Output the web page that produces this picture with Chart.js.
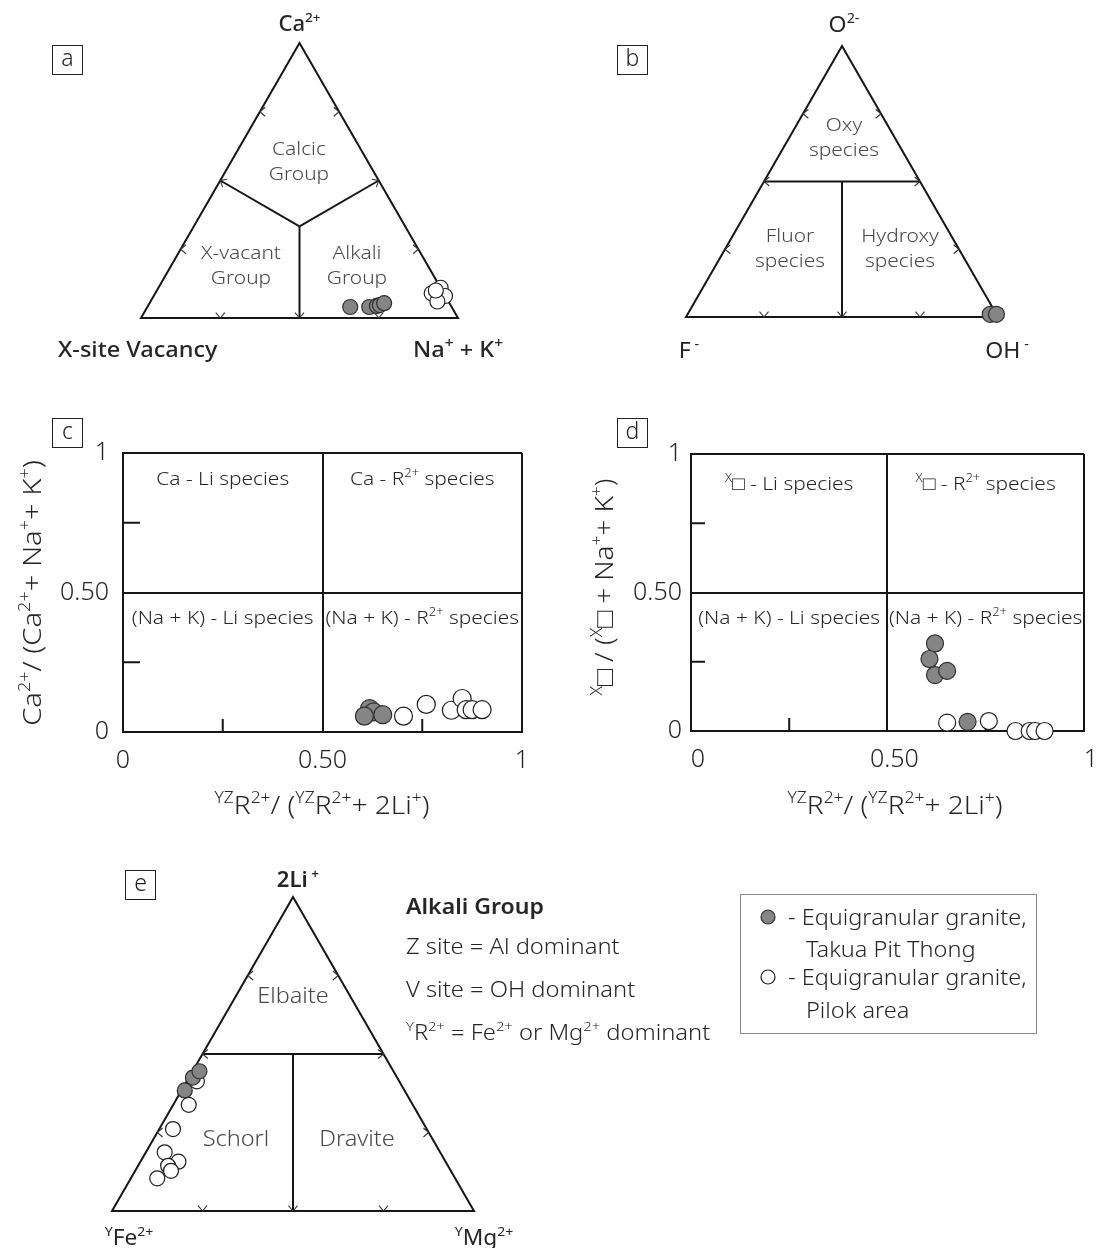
<!DOCTYPE html>
<html>
<head>
<meta charset="utf-8">
<title>Tourmaline classification diagrams</title>
<script src="https://cdn.jsdelivr.net/npm/chart.js@4.4.1/dist/chart.umd.min.js"></script>
<style>
  html, body { margin: 0; padding: 0; background: #ffffff; }
  #figure { position: relative; width: 1105px; height: 1248px; overflow: hidden; background: #fff; }
  #figure canvas { position: absolute; }
</style>
</head>
<body>
<div id="figure">
  <canvas id="panelA" width="560" height="400" style="left:0px;top:0px"></canvas>
  <canvas id="panelB" width="545" height="400" style="left:560px;top:0px"></canvas>
  <canvas id="panelC" width="560" height="440" style="left:0px;top:400px"></canvas>
  <canvas id="panelD" width="545" height="440" style="left:560px;top:400px"></canvas>
  <canvas id="panelE" width="1105" height="408" style="left:0px;top:840px"></canvas>
</div>
<script>
// ---------------- data ----------------
const seriesNames = ['Equigranular granite, Takua Pit Thong', 'Equigranular granite, Pilok area'];

// (a) X site: Ca2+, Na+ + K+, vacancy (fractions)
const aTakuaCa  = [0.040, 0.040, 0.044, 0.047, 0.054];
const aTakuaNaK = [0.640, 0.700, 0.722, 0.730, 0.740];
const aTakuaVac = [0.320, 0.260, 0.234, 0.223, 0.206];
const aPilokCa  = [0.090, 0.110, 0.080, 0.060, 0.100];
const aPilokNaK = [0.872, 0.890, 0.919, 0.905, 0.880];
const aPilokVac = [0.038, 0.000, 0.001, 0.035, 0.020];

// (b) W site: O2-, OH-, F-
const bTakuaO  = [0.010, 0.010];
const bTakuaOH = [0.970, 0.990];
const bTakuaF  = [0.020, 0.000];

// (c) YZR2+/(YZR2+ + 2Li+) vs Ca2+/(Ca2+ + Na+ + K+)
const cTakuaR  = [0.618, 0.628, 0.605, 0.651];
const cTakuaCa = [0.084, 0.072, 0.057, 0.062];
const cPilokR  = [0.703, 0.760, 0.823, 0.850, 0.860, 0.875, 0.900];
const cPilokCa = [0.057, 0.099, 0.078, 0.120, 0.080, 0.080, 0.080];

// (d) YZR2+/(YZR2+ + 2Li+) vs vacancy/(vacancy + Na+ + K+)
const dTakuaR   = [0.621, 0.607, 0.621, 0.652, 0.704];
const dTakuaVac = [0.316, 0.260, 0.202, 0.217, 0.033];
const dPilokR   = [0.652, 0.758, 0.826, 0.862, 0.876, 0.900];
const dPilokVac = [0.030, 0.036, 0.000, 0.000, 0.000, 0.000];

// (e) Y site: 2Li+, Fe2+, Mg2+
const eTakuaLi = [0.384, 0.425, 0.445];
const eTakuaFe = [0.607, 0.564, 0.536];
const eTakuaMg = [0.009, 0.011, 0.019];
const ePilokLi = [0.413, 0.338, 0.261, 0.187, 0.157, 0.144, 0.128, 0.104];
const ePilokFe = [0.559, 0.619, 0.701, 0.761, 0.738, 0.773, 0.773, 0.823];
const ePilokMg = [0.028, 0.043, 0.038, 0.052, 0.105, 0.083, 0.099, 0.073];

// axis ticks of the two binary plots
const tickValues = [0, 0.5, 1];
const tickLabels = ['0', '0.50', '1'];

// ---------------- helpers ----------------
const H = Math.sqrt(3) / 2;
const FONT = "'Noto Sans', 'DejaVu Sans', sans-serif";
const INK = '#161616';
const TEXT = '#262626';
const SOFT = '#484848';

const filledStyle = { backgroundColor: '#858585', borderColor: '#2e2e2e', borderWidth: 1.2 };
const openStyle   = { backgroundColor: '#ffffff', borderColor: '#1e1e1e', borderWidth: 1.2 };

// ternary fractions (top, right, left apex) -> cartesian x/y in a unit triangle
function ternary(top, right, left) {
  return top.map((t, i) => {
    const s = t + right[i] + left[i];
    return { x: right[i] / s + (t / s) / 2, y: (t / s) * H };
  });
}
function pairs(xs, ys) { return xs.map((x, i) => ({ x, y: ys[i] })); }

function dataset(label, data, style, radius) {
  return Object.assign({ label, data, pointRadius: radius, pointHoverRadius: radius, clip: false }, style);
}

function setFont(ctx, size, weight) { ctx.font = `${weight} ${size}px ${FONT}`; }
const sup = t => ({ t, sup: true });

// text with superscripts; (x, y) is the visual centre line of the capitals
function rich(ctx, parts, x, y, o) {
  const size = o.size || 18, weight = o.weight || 400, small = size * (o.supScale || 0.62);
  const stretch = o.stretch || 1.1;
  const segs = parts.map(p => typeof p === 'string' ? { t: p } : p);
  let w = 0;
  for (const s of segs) { setFont(ctx, s.sup ? small : size, weight); w += ctx.measureText(s.t).width; }
  ctx.save();
  ctx.translate(x, y);
  if (o.rotate) ctx.rotate(o.rotate);
  ctx.scale(stretch, 1);
  ctx.fillStyle = o.color || TEXT;
  ctx.textAlign = 'left';
  ctx.textBaseline = 'alphabetic';
  let cx = o.align === 'left' ? 0 : o.align === 'right' ? -w : -w / 2;
  const base = size * 0.36;
  for (const s of segs) {
    setFont(ctx, s.sup ? small : size, weight);
    ctx.fillText(s.t, cx, base - (s.sup ? size * 0.42 : 0));
    cx += ctx.measureText(s.t).width;
  }
  ctx.restore();
}

function poly(ctx, pts, close) {
  ctx.beginPath();
  ctx.moveTo(pts[0][0], pts[0][1]);
  for (let i = 1; i < pts.length; i++) ctx.lineTo(pts[i][0], pts[i][1]);
  if (close) ctx.closePath();
  ctx.stroke();
}

// open arrow head with its tip at (x, y) pointing along angle ang
function chevron(ctx, x, y, ang) {
  const len = 7, spread = 0.7;
  ctx.beginPath();
  ctx.moveTo(x + len * Math.cos(ang + Math.PI - spread), y + len * Math.sin(ang + Math.PI - spread));
  ctx.lineTo(x, y);
  ctx.lineTo(x + len * Math.cos(ang + Math.PI + spread), y + len * Math.sin(ang + Math.PI + spread));
  ctx.stroke();
}

function panelTag(ctx, letter, x, y) {
  ctx.save();
  ctx.strokeStyle = '#222';
  ctx.lineWidth = 1;
  ctx.strokeRect(x + 0.5, y + 0.5, 30, 29);
  ctx.restore();
  rich(ctx, [letter], x + 15.5, y + 13, { size: 23, weight: 300, color: '#222', stretch: 1 });
}

// pixel position of a ternary composition through the chart scales
function tpx(chart, t, r, l) {
  const s = t + r + l;
  const x = r / s + (t / s) / 2, y = (t / s) * H;
  return [chart.scales.x.getPixelForValue(x), chart.scales.y.getPixelForValue(y)];
}

// outline, tick arrows on the three sides
function triangleFrame(chart) {
  const ctx = chart.ctx;
  const P = (t, r, l) => tpx(chart, t, r, l);
  ctx.strokeStyle = INK;
  ctx.lineWidth = 2;
  ctx.lineJoin = 'miter';
  poly(ctx, [P(1, 0, 0), P(0, 1, 0), P(0, 0, 1)], true);
  ctx.lineWidth = 1.1;
  ctx.strokeStyle = '#333';
  for (const f of [0.25, 0.75]) {
    let p = P(f, 0, 1 - f); chevron(ctx, p[0], p[1], Math.PI);
    p = P(f, 1 - f, 0); chevron(ctx, p[0], p[1], 0);
    p = P(0, f, 1 - f); chevron(ctx, p[0], p[1], Math.PI / 2);
  }
}

// horizontal line at half height plus a vertical line down to the base
function halfSplit(chart) {
  const ctx = chart.ctx;
  const P = (t, r, l) => tpx(chart, t, r, l);
  const a = P(0.5, 0, 0.5), b = P(0.5, 0.5, 0), m = P(0.5, 0.25, 0.25), d = P(0, 0.5, 0.5);
  ctx.strokeStyle = INK;
  ctx.lineWidth = 2;
  poly(ctx, [a, b]);
  poly(ctx, [m, d]);
  ctx.lineWidth = 1.1;
  ctx.strokeStyle = '#333';
  chevron(ctx, a[0], a[1], Math.PI);
  chevron(ctx, b[0], b[1], 0);
  chevron(ctx, d[0], d[1], Math.PI / 2);
}

function ternaryChart(id, datasets, pad, draw) {
  return new Chart(document.getElementById(id), {
    type: 'scatter',
    data: { datasets },
    options: {
      responsive: false,
      animation: false,
      devicePixelRatio: 1,
      layout: { padding: pad },
      scales: {
        x: { type: 'linear', min: 0, max: 1, display: false },
        y: { type: 'linear', min: 0, max: H, display: false }
      },
      plugins: { legend: { display: false }, tooltip: { enabled: false } }
    },
    plugins: [{ id: 'ternaryFrame', beforeDatasetsDraw(chart) { const c = chart.ctx; c.save(); draw(chart); c.restore(); } }]
  });
}

function quadChart(id, datasets, pad, labelShift, yPad, yTickLen, draw) {
  const tickFont = { family: FONT, size: 25, weight: 300 };
  const common = {
    type: 'linear', min: 0, max: 1,
    afterBuildTicks: a => { a.ticks = tickValues.map(value => ({ value })); },
    grid: { color: INK, lineWidth: 2, drawTicks: false },
    border: { color: INK, width: 2 }
  };
  return new Chart(document.getElementById(id), {
    type: 'scatter',
    data: { datasets },
    options: {
      responsive: false,
      animation: false,
      devicePixelRatio: 1,
      layout: { padding: pad },
      scales: {
        x: Object.assign({}, common, {
          afterFit: a => { a.height = 50; },
          ticks: { font: tickFont, color: TEXT, padding: 14, maxRotation: 0, autoSkip: false, labelOffset: labelShift,
                   callback: (v, i) => tickLabels[i] }
        }),
        y: Object.assign({}, common, {
          afterFit: a => { a.width = 100; },
          ticks: { font: tickFont, color: TEXT, padding: yPad, autoSkip: false,
                   callback: (v, i) => tickLabels[i] }
        })
      },
      plugins: { legend: { display: false }, tooltip: { enabled: false } }
    },
    plugins: [{
      id: 'quadrants',
      beforeDatasetsDraw(chart) {
        const ctx = chart.ctx, x = chart.scales.x, y = chart.scales.y;
        ctx.save();
        ctx.strokeStyle = INK;
        ctx.lineWidth = 2;
        for (const v of [0.25, 0.75]) {
          const x0 = x.getPixelForValue(0), yv = y.getPixelForValue(v);
          poly(ctx, [[x0, yv], [x0 + yTickLen, yv]]);
          const xv = x.getPixelForValue(v), y0 = y.getPixelForValue(0);
          poly(ctx, [[xv, y0], [xv, y0 - 13]]);
        }
        draw(chart);
        ctx.restore();
      }
    }]
  });
}

// ---------------- (a) X-site ----------------
ternaryChart('panelA', [
  dataset(seriesNames[0], ternary(aTakuaCa, aTakuaNaK, aTakuaVac), filledStyle, 7.5),
  dataset(seriesNames[1], ternary(aPilokCa, aPilokNaK, aPilokVac), openStyle, 7.5)
], { left: 141, right: 102, top: 43, bottom: 82 }, chart => {
  const ctx = chart.ctx;
  const P = (t, r, l) => tpx(chart, t, r, l);
  triangleFrame(chart);
  const c = P(1, 1, 1);
  const ends = [P(1, 0, 1), P(1, 1, 0), P(0, 1, 1)];
  ctx.strokeStyle = INK;
  ctx.lineWidth = 2;
  ends.forEach(e => poly(ctx, [c, e]));
  ctx.lineWidth = 1.1;
  ctx.strokeStyle = '#333';
  ends.forEach(e => chevron(ctx, e[0], e[1], Math.atan2(e[1] - c[1], e[0] - c[0])));
  const top = P(1, 0, 0), right = P(0, 1, 0);
  rich(ctx, ['Ca', sup('2+')], top[0], top[1] - 20, { size: 21, weight: 500, stretch: 1.05 });
  rich(ctx, ['X-site Vacancy'], 58, 349, { size: 21, weight: 500, align: 'left', stretch: 1.12 });
  rich(ctx, ['Na', sup('+'), ' + K', sup('+')], right[0], 349, { size: 21, weight: 500, stretch: 1.12, supScale: 0.66 });
  const reg = { size: 19, weight: 300, color: SOFT };
  rich(ctx, ['Calcic'], 299, 148, reg); rich(ctx, ['Group'], 299, 173, reg);
  rich(ctx, ['X-vacant'], 241, 252, reg); rich(ctx, ['Group'], 241, 277, reg);
  rich(ctx, ['Alkali'], 357, 252, reg); rich(ctx, ['Group'], 357, 277, reg);
  panelTag(ctx, 'a', 52, 45);
});

// ---------------- (b) W-site ----------------
ternaryChart('panelB', [
  dataset(seriesNames[0], ternary(bTakuaO, bTakuaOH, bTakuaF), filledStyle, 8)
], { left: 126, right: 107, top: 46, bottom: 83 }, chart => {
  const ctx = chart.ctx;
  const P = (t, r, l) => tpx(chart, t, r, l);
  triangleFrame(chart);
  halfSplit(chart);
  const top = P(1, 0, 0), right = P(0, 1, 0), left = P(0, 0, 1);
  rich(ctx, ['O', sup('2-')], top[0] + 2, top[1] - 22, { size: 22, weight: 400, stretch: 1.05 });
  rich(ctx, ['F', sup(' -')], left[0] + 3, 350, { size: 22, weight: 400, stretch: 1.05 });
  rich(ctx, ['OH', sup(' -')], right[0] + 9, 350, { size: 22, weight: 400, stretch: 1.05 });
  const reg = { size: 19, weight: 300, color: SOFT };
  rich(ctx, ['Oxy'], 284, 124, reg); rich(ctx, ['species'], 284, 149, reg);
  rich(ctx, ['Fluor'], 230, 235, reg); rich(ctx, ['species'], 230, 260, reg);
  rich(ctx, ['Hydroxy'], 340, 235, reg); rich(ctx, ['species'], 340, 260, reg);
  panelTag(ctx, 'b', 57, 45);
});

// ---------------- (c) ----------------
const rTitle = [sup('YZ'), 'R', sup('2+'), '/ (', sup('YZ'), 'R', sup('2+'), '+ 2Li', sup('+'), ')'];
quadChart('panelC', [
  dataset(seriesNames[0], pairs(cTakuaR, cTakuaCa), filledStyle, 9),
  dataset(seriesNames[1], pairs(cPilokR, cPilokCa), openStyle, 9)
], { left: 23, right: 38, top: 53, bottom: 58 }, 0, 14, 17, chart => {
  const ctx = chart.ctx, x = chart.scales.x, y = chart.scales.y;
  const q = { size: 19, weight: 300, color: TEXT };
  rich(ctx, ['Ca - Li species'], x.getPixelForValue(0.25), y.getPixelForValue(0.91), q);
  rich(ctx, ['Ca - R', sup('2+'), ' species'], x.getPixelForValue(0.75), y.getPixelForValue(0.91), q);
  rich(ctx, ['(Na + K) - Li species'], x.getPixelForValue(0.25), y.getPixelForValue(0.41), q);
  rich(ctx, ['(Na + K) - R', sup('2+'), ' species'], x.getPixelForValue(0.75), y.getPixelForValue(0.41), q);
  rich(ctx, ['Ca', sup('2+'), '/ (Ca', sup('2+'), '+ Na', sup('+'), '+ K', sup('+'), ')'], 32, 193,
       { size: 26, weight: 300, rotate: -Math.PI / 2, stretch: 1.12 });
  rich(ctx, rTitle, 322, 405, { size: 26, weight: 300, stretch: 1.08 });
  panelTag(ctx, 'c', 52, 18);
});

// ---------------- (d) ----------------
quadChart('panelD', [
  dataset(seriesNames[0], pairs(dTakuaR, dTakuaVac), filledStyle, 8.5),
  dataset(seriesNames[1], pairs(dPilokR, dPilokVac), openStyle, 8.5)
], { left: 31, right: 19, top: 54, bottom: 59 }, 7, 9, 14, chart => {
  const ctx = chart.ctx, x = chart.scales.x, y = chart.scales.y;
  const q = { size: 19, weight: 300, color: TEXT };
  rich(ctx, [sup('X'), '\u25A1 - Li species'], x.getPixelForValue(0.25), y.getPixelForValue(0.895), q);
  rich(ctx, [sup('X'), '\u25A1 - R', sup('2+'), ' species'], x.getPixelForValue(0.75), y.getPixelForValue(0.895), q);
  rich(ctx, ['(Na + K) - Li species'], x.getPixelForValue(0.25), y.getPixelForValue(0.41), q);
  rich(ctx, ['(Na + K) - R', sup('2+'), ' species'], x.getPixelForValue(0.75), y.getPixelForValue(0.41), q);
  rich(ctx, [sup('X'), '\u25A1 / (', sup('X'), '\u25A1 + Na', sup('+'), '+ K', sup('+'), ')'], 44, 187,
       { size: 26, weight: 300, rotate: -Math.PI / 2, stretch: 1.07 });
  rich(ctx, rTitle, 335, 405, { size: 26, weight: 300, stretch: 1.08 });
  panelTag(ctx, 'd', 57, 18);
});

// ---------------- (e) Y-site, notes and legend ----------------
ternaryChart('panelE', [
  dataset(seriesNames[0], ternary(eTakuaLi, eTakuaMg, eTakuaFe), filledStyle, 7.5),
  dataset(seriesNames[1], ternary(ePilokLi, ePilokMg, ePilokFe), openStyle, 7.5)
], { left: 112, right: 631, top: 57, bottom: 37 }, chart => {
  const ctx = chart.ctx;
  const P = (t, r, l) => tpx(chart, t, r, l);
  triangleFrame(chart);
  halfSplit(chart);
  const top = P(1, 0, 0), right = P(0, 1, 0), left = P(0, 0, 1);
  rich(ctx, ['2Li', sup(' +')], top[0] + 5, top[1] - 18, { size: 21, weight: 600, stretch: 1.05 });
  rich(ctx, [sup('Y'), 'Fe', sup('2+')], left[0] + 17, 397, { size: 21, weight: 400, stretch: 1.08 });
  rich(ctx, [sup('Y'), 'Mg', sup('2+')], right[0] + 10, 397, { size: 21, weight: 400, stretch: 1.08 });
  const reg = { size: 21, weight: 300, color: SOFT, stretch: 1.12 };
  rich(ctx, ['Elbaite'], 293, 155, reg);
  rich(ctx, ['Schorl'], 236, 298, reg);
  rich(ctx, ['Dravite'], 357, 298, reg);
  panelTag(ctx, 'e', 125, 30);

  // composition notes
  const note = { size: 21, weight: 300, color: TEXT, align: 'left', stretch: 1.13 };
  rich(ctx, ['Alkali Group'], 406, 66, { size: 21, weight: 600, color: TEXT, align: 'left', stretch: 1.1 });
  rich(ctx, ['Z site = Al dominant'], 406, 106, note);
  rich(ctx, ['V site = OH dominant'], 406, 149, note);
  rich(ctx, [sup('Y'), 'R', sup('2+'), ' = Fe', sup('2+'), ' or Mg', sup('2+'), ' dominant'], 406, 192, note);

  // legend
  ctx.strokeStyle = '#8a8a8a';
  ctx.lineWidth = 1;
  ctx.strokeRect(740.5, 54.5, 296, 139);
  const mark = (cx, cy, st) => {
    ctx.beginPath();
    ctx.arc(cx, cy, 7, 0, Math.PI * 2);
    ctx.fillStyle = st.backgroundColor; ctx.fill();
    ctx.strokeStyle = st.borderColor; ctx.lineWidth = 1.2; ctx.stroke();
  };
  mark(768, 77, filledStyle);
  mark(768, 137, openStyle);
  const leg = { size: 21, weight: 300, color: TEXT, align: 'left', stretch: 1.12 };
  rich(ctx, ['- Equigranular granite,'], 788, 77, leg);
  rich(ctx, ['Takua Pit Thong'], 806, 109, leg);
  rich(ctx, ['- Equigranular granite,'], 788, 137, leg);
  rich(ctx, ['Pilok area'], 806, 170, leg);
});
</script>
</body>
</html>
